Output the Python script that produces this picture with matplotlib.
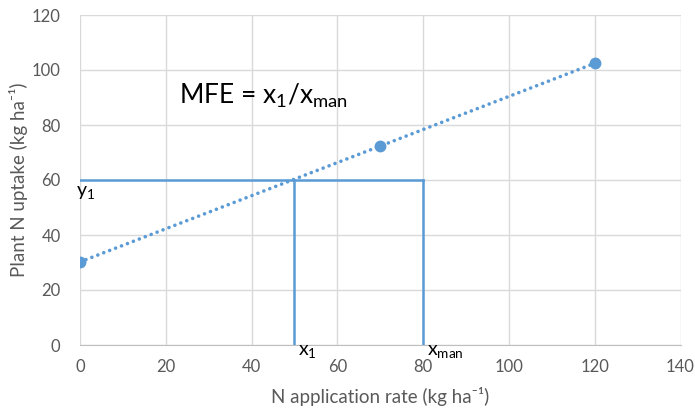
import matplotlib
matplotlib.use("Agg")
import matplotlib.pyplot as plt
import numpy as np

# Data
n_rate = [0, 70, 120]
n_uptake = [30.2, 72.4, 102.4]
y1_val = 60
x1_val = 50
xman_val = 80
x_ticks = [0, 20, 40, 60, 80, 100, 120, 140]
y_ticks = [0, 20, 40, 60, 80, 100, 120]

blue = "#5B9BD5"
gray_txt = "#595959"
grid_c = "#D9D9D9"

plt.rcParams['font.family'] = ['Lato', 'DejaVu Sans']
plt.rcParams['mathtext.fontset'] = 'custom'
plt.rcParams['mathtext.rm'] = 'Lato'
plt.rcParams['mathtext.it'] = 'Lato'

fig = plt.figure(figsize=(6.95, 4.11), dpi=100)
ax = fig.add_axes([80/695, 1-345/411, 600.5/695, 330/411])

# trendline (linear fit)
coef = np.polyfit(n_rate, n_uptake, 1)
tx = np.array([min(n_rate), max(n_rate)])
ax.plot(tx, np.polyval(coef, tx), color=blue, lw=2.6, linestyle=(0, (0.01, 1.75)),
        dash_capstyle='round', solid_capstyle='round', zorder=3)
ax.plot(n_rate, n_uptake, 'o', color=blue, ms=7.5, zorder=4)

# construction lines
ax.plot([0, xman_val], [y1_val, y1_val], color=blue, lw=1.8, zorder=3)
ax.plot([x1_val, x1_val], [0, y1_val], color=blue, lw=1.8, zorder=3)
ax.plot([xman_val, xman_val], [0, y1_val], color=blue, lw=1.8, zorder=3)

ax.set_xlim(0, 140)
ax.set_ylim(0, 120)
ax.set_xticks(x_ticks)
ax.set_yticks(y_ticks)
ax.grid(True, color=grid_c, lw=1)
ax.set_axisbelow(True)
for s in ['top', 'right', 'left']:
    ax.spines[s].set_visible(False)
ax.spines['bottom'].set_color('#BFBFBF')
ax.tick_params(length=0, labelsize=12, colors=gray_txt, pad=10)
ax.tick_params(axis='y', pad=14)

ax.set_xlabel("N application rate (kg ha⁻¹)", fontsize=13.5, color=gray_txt, labelpad=9)
ax.set_ylabel("Plant N uptake (kg ha⁻¹)", fontsize=13.5, color=gray_txt, labelpad=3)

ax.text(23, 90.5, "MFE = x$_1$/x$_{\\mathrm{man}}$", fontsize=19, color='black',
        va='center', ha='left')
ax.text(-1.0, 55.5, "y$_1$", fontsize=14, color='black', va='center', ha='left', clip_on=False)
ax.text(50.8, -2.5, "x$_1$", fontsize=14, color='black', va='center', ha='left', clip_on=False)
ax.text(80.8, -2.5, "x$_{\\mathrm{man}}$", fontsize=14, color='black', va='center', ha='left', clip_on=False)

fig.savefig("out.png", dpi=100)
